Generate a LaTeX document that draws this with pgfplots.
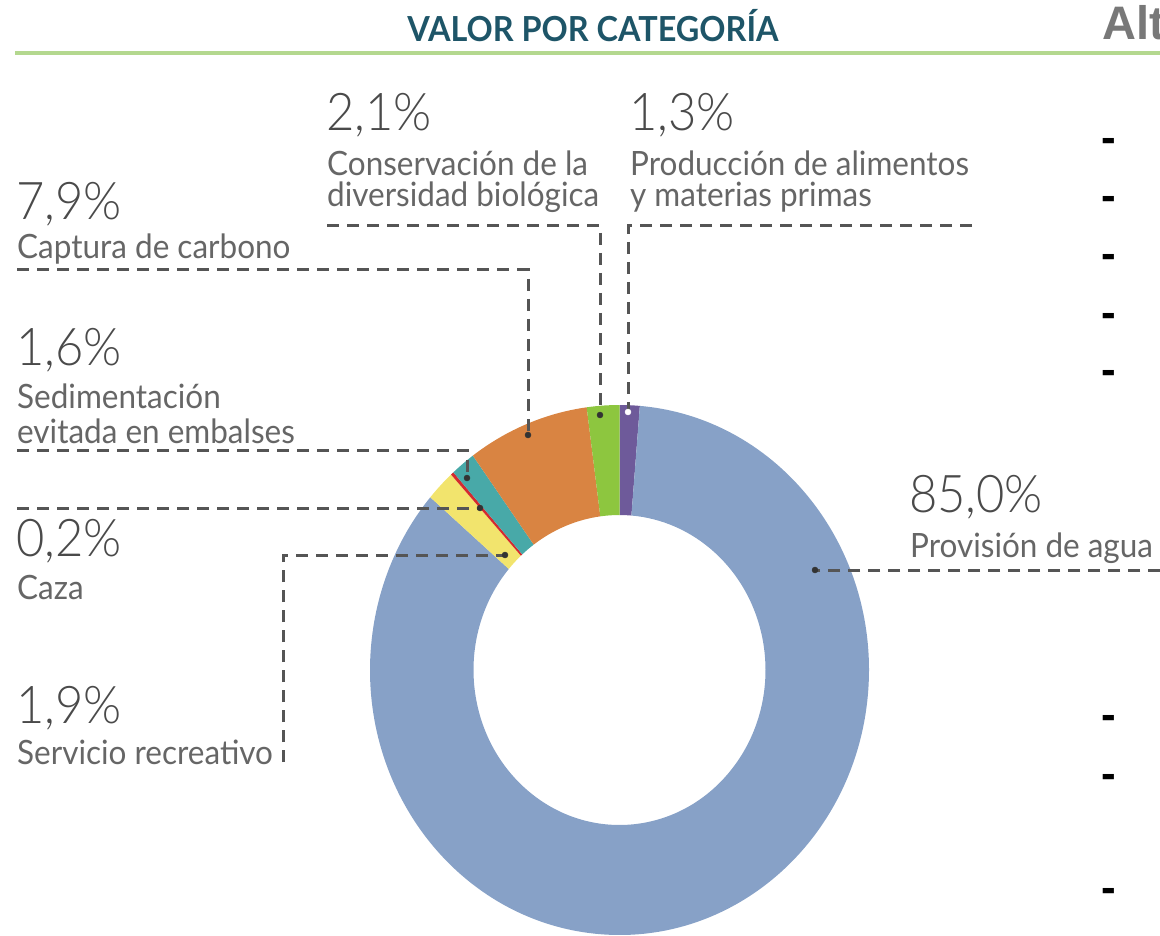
\documentclass[border=0pt]{standalone}
\usepackage{graphicx}
\usepackage{pgfplots}
\pgfplotsset{compat=1.18}
\usepackage{pgfplotstable}
\usepackage{fontspec}
\setmainfont{Lato}
\IfFontExistsTF{Lato Light}{\newfontfamily\light{Lato Light}}{\newfontfamily\light{Lato}}
\newfontfamily\arial{Liberation Sans}

\definecolor{cBlue}{HTML}{87A1C7}
\definecolor{cOra}{HTML}{D98442}
\definecolor{cGre}{HTML}{8DC63F}
\definecolor{cPur}{HTML}{6E5A9A}
\definecolor{cTeal}{HTML}{48A9A8}
\definecolor{cRed}{HTML}{D42A2F}
\definecolor{cYel}{HTML}{F2E46D}
\definecolor{title}{HTML}{1E5568}
\definecolor{rule}{HTML}{B4D88F}
\definecolor{pct}{HTML}{4A4A4A}
\definecolor{lbl}{HTML}{666666}
\definecolor{lead}{HTML}{555555}

% shares clockwise from 12 o'clock
\pgfplotstableread{
val col
1.3 cPur
85.0 cBlue
1.9 cYel
0.2 cRed
1.6 cTeal
7.9 cOra
2.1 cGre
}\shares

\newcommand\pctfont{\light\fontsize{52}{54}\selectfont}
\newcommand\lblfont{\fontsize{33.5}{35}\selectfont}
\newcommand\sq[1]{\scalebox{0.94}[1]{#1}}

\begin{document}
\begin{tikzpicture}
\begin{axis}[
  scale only axis, width=1160pt, height=936pt,
  xmin=0, xmax=1160, ymin=0, ymax=936, y dir=reverse,
  hide axis, clip=true,
]
% donut
\pgfplotstablegetrowsof{\shares}
\pgfmathtruncatemacro\last{\pgfplotsretval-1}
\def\acc{0}
\pgfplotsforeachungrouped \i in {0,...,\last}{%
  \pgfplotstablegetelem{\i}{val}\of\shares \let\v\pgfplotsretval
  \pgfplotstablegetelem{\i}{col}\of\shares \let\c\pgfplotsretval
  \pgfmathsetmacro\aa{90-3.6*\acc}
  \pgfmathsetmacro\acc{\acc+\v}
  \pgfmathsetmacro\ab{90-3.6*\acc}
  \pgfmathsetmacro\xa{619.5+249.5*cos(\aa)}
  \pgfmathsetmacro\ya{670-265*sin(\aa)}
  \pgfmathsetmacro\xb{619.5+146*cos(\ab)}
  \pgfmathsetmacro\yb{670-155*sin(\ab)}
  \edef\wedge{\noexpand\fill[\c] (axis cs:\xa,\ya)
    arc[start angle=\aa, end angle=\ab, x radius=249.5pt, y radius=265pt]
    -- (axis cs:\xb,\yb)
    arc[start angle=\ab, end angle=\aa, x radius=146pt, y radius=155pt] -- cycle;}%
  \wedge
}

% header
\draw[rule, line width=4pt] (axis cs:15,53) -- (axis cs:1160,53);
\node[anchor=base, inner sep=0, text=title, font=\bfseries\fontsize{34.5}{36}\selectfont]
  at (axis cs:593,42) {\sq{VALOR POR CATEGORÍA}};
\node[anchor=base west, inner sep=0, text=black!53, font=\arial\bfseries\fontsize{47}{48}\selectfont]
  at (axis cs:1102,40) {Alt};
\pgfplotsinvokeforeach{153,211,269,327,384,729,788,902}{%
  \node[anchor=base west, inner sep=0, font=\arial\bfseries\fontsize{44}{44}\selectfont]
    at (axis cs:1101,#1) {-};
}

% leader lines
\begin{scope}[lead, line width=3pt, dash pattern=on 12pt off 8pt]
\draw (axis cs:327,226) -- (axis cs:600,226) -- (axis cs:600,415);
\draw (axis cs:972,226) -- (axis cs:628,226) -- (axis cs:628,412);
\draw (axis cs:17,270) -- (axis cs:528,270) -- (axis cs:528,435);
\draw (axis cs:17,450) -- (axis cs:467,450) -- (axis cs:467,478);
\draw (axis cs:17,508) -- (axis cs:480,508);
\draw (axis cs:283,762) -- (axis cs:283,555) -- (axis cs:505,555);
\draw (axis cs:1160,570) -- (axis cs:815,570);
\end{scope}
\addplot[only marks, mark=*, mark size=3pt, color=black!80]
  coordinates {(600,415) (528,435) (467,478) (480,508) (505,555) (815,570)};
\addplot[only marks, mark=*, mark size=3pt, color=white]
  coordinates {(628,412)};

% labels
\node[anchor=base west, inner sep=0, text=pct, font=\pctfont] at (axis cs:326,131) {\sq{2,1\%}};
\node[anchor=base west, inner sep=0, text=lbl, font=\lblfont] at (axis cs:327,176) {\sq{Conservación de la}};
\node[anchor=base west, inner sep=0, text=lbl, font=\lblfont] at (axis cs:327,207) {\sq{diversidad biológica}};

\node[anchor=base west, inner sep=0, text=pct, font=\pctfont] at (axis cs:629,131) {\sq{1,3\%}};
\node[anchor=base west, inner sep=0, text=lbl, font=\lblfont] at (axis cs:630,176) {\sq{Producción de alimentos}};
\node[anchor=base west, inner sep=0, text=lbl, font=\lblfont] at (axis cs:630,207) {\sq{y materias primas}};

\node[anchor=base west, inner sep=0, text=pct, font=\pctfont] at (axis cs:16,220) {\sq{7,9\%}};
\node[anchor=base west, inner sep=0, text=lbl, font=\lblfont] at (axis cs:17,259) {\sq{Captura de carbono}};

\node[anchor=base west, inner sep=0, text=pct, font=\pctfont] at (axis cs:16,365) {\sq{1,6\%}};
\node[anchor=base west, inner sep=0, text=lbl, font=\lblfont] at (axis cs:17,408) {\sq{Sedimentación}};
\node[anchor=base west, inner sep=0, text=lbl, font=\lblfont] at (axis cs:17,443) {\sq{evitada en embalses}};

\node[anchor=base west, inner sep=0, text=pct, font=\pctfont] at (axis cs:16,556) {\sq{0,2\%}};
\node[anchor=base west, inner sep=0, text=lbl, font=\lblfont] at (axis cs:17,599) {\sq{Caza}};

\node[anchor=base west, inner sep=0, text=pct, font=\pctfont] at (axis cs:16,723) {\sq{1,9\%}};
\node[anchor=base west, inner sep=0, text=lbl, font=\lblfont] at (axis cs:17,764) {\sq{Servicio recreativo}};

\node[anchor=base west, inner sep=0, text=pct, font=\pctfont] at (axis cs:909,512) {\sq{85,0\%}};
\node[anchor=base west, inner sep=0, text=lbl, font=\lblfont] at (axis cs:910,557) {\sq{Provisión de agua}};

\coordinate (BL) at (axis cs:0,936);
\coordinate (TR) at (axis cs:1160,0);
\end{axis}
\pgfresetboundingbox
\path[use as bounding box] (BL) rectangle (TR);
\end{tikzpicture}
\end{document}
